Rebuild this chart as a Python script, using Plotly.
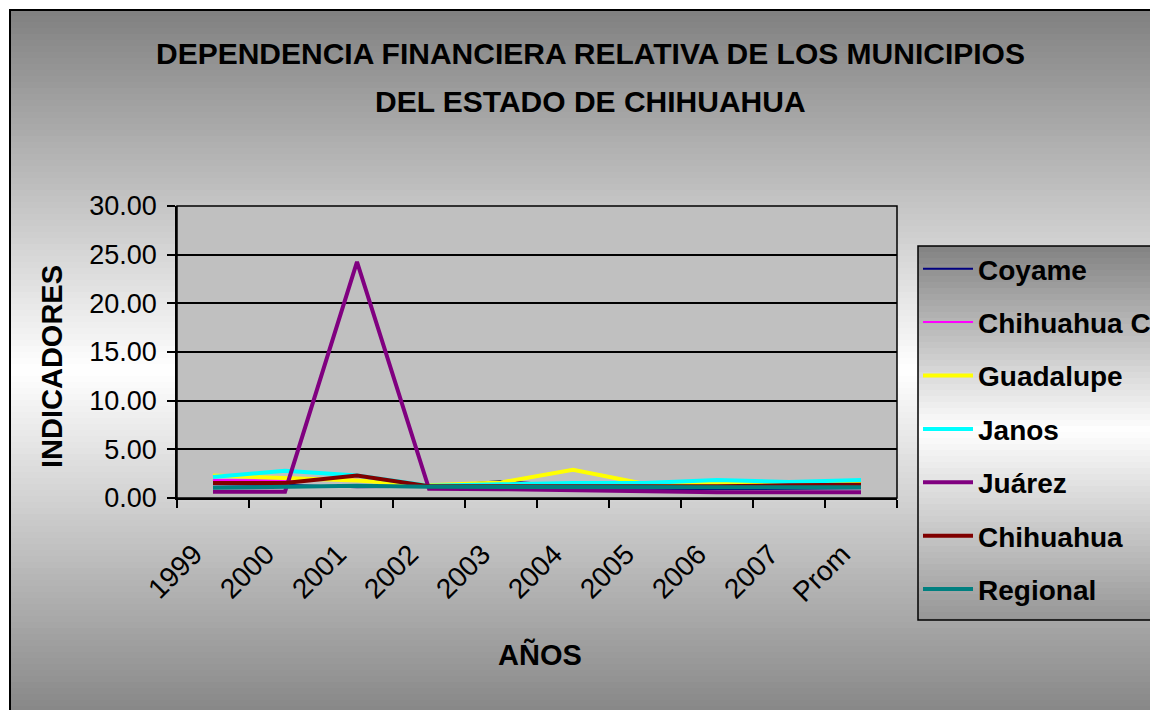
import plotly.graph_objects as go

years = ["1999", "2000", "2001", "2002", "2003", "2004", "2005", "2006", "2007", "Prom"]
coyame = [1.40, 1.35, 1.10, 1.15, 1.75, 1.25, 0.85, 0.90, 0.95, 1.00]
chihuahua_c = [1.85, 1.80, 1.90, 1.15, 1.15, 1.00, 1.00, 1.05, 1.10, 1.20]
guadalupe = [2.30, 2.00, 1.80, 1.30, 1.60, 2.90, 1.45, 1.60, 1.60, 1.65]
janos = [2.15, 2.80, 2.30, 1.25, 1.40, 1.55, 1.55, 1.85, 1.65, 1.85]
juarez = [0.65, 0.65, 24.25, 0.95, 0.90, 0.80, 0.60, 0.60, 0.60, 0.60]
chihuahua = [1.55, 1.55, 2.30, 1.20, 1.20, 1.20, 1.15, 1.20, 1.30, 1.35]
regional = [1.05, 1.10, 1.25, 1.15, 1.15, 1.15, 1.10, 1.10, 1.10, 1.10]

series_names = ["Coyame", "Chihuahua C", "Guadalupe", "Janos", "Juárez", "Chihuahua", "Regional"]
series_vals = [coyame, chihuahua_c, guadalupe, janos, juarez, chihuahua, regional]
colors = ["#000080", "#FF00FF", "#FFFF00", "#00FFFF", "#800080", "#800000", "#008080"]
widths = [2, 2, 4, 4, 4, 4, 4]

OFF = 0  # body margin removed via post_script
PW, PH = 1150, 710
W, H = PW, PH
L, R, T, B = 177, 897, 206, 498  # plot area in page pixels


def px(x):
    return (x - L) / (R - L)


def py(y):
    return (B - y) / (B - T)


def gray(v):
    v = int(round(max(0, min(255, v))))
    return f"rgb({v},{v},{v})"


shapes = []
step = 6
# chart area gradient (gray -> white -> gray)
top, mid, bot = 10, 370, 712
y = top
while y < bot + 10:
    yc = min(y + step / 2, bot)
    if yc <= mid:
        v = 128 + (yc - top) / (mid - top) * (255 - 128)
    else:
        v = 255 - (yc - mid) / (bot - mid) * (255 - 135)
    shapes.append(dict(type="rect", xref="paper", yref="paper", layer="below",
                       x0=px(10), x1=px(PW + 20), y0=py(y), y1=py(y + step + 0.5),
                       fillcolor=gray(v), line=dict(width=0)))
    y += step

# chart border
shapes.append(dict(type="rect", xref="paper", yref="paper", layer="below",
                   x0=px(10), x1=px(PW + 30), y0=py(10), y1=py(PH + 30),
                   fillcolor="rgba(0,0,0,0)", line=dict(color="black", width=2)))

# plot area
shapes.append(dict(type="rect", xref="paper", yref="paper", layer="below",
                   x0=0, x1=1, y0=0, y1=1, fillcolor="#C0C0C0",
                   line=dict(color="black", width=1.5)))

# legend box gradient
lt, lm, lb = 246, 430, 620
y = lt
while y < lb:
    yc = y + step / 2
    if yc <= lm:
        v = 130 + (yc - lt) / (lm - lt) * (255 - 130)
    else:
        v = 255 - (yc - lm) / (lb - lm) * (255 - 150)
    shapes.append(dict(type="rect", xref="paper", yref="paper", layer="below",
                       x0=px(918), x1=px(PW + 20), y0=py(y), y1=py(min(lb, y + step + 0.5)),
                       fillcolor=gray(v), line=dict(width=0)))
    y += step
shapes.append(dict(type="rect", xref="paper", yref="paper", layer="below",
                   x0=px(918), x1=px(PW + 20), y0=py(lt), y1=py(lb),
                   fillcolor="rgba(0,0,0,0)", line=dict(color="black", width=1.5)))

fig = go.Figure()
for i, (name, vals) in enumerate(zip(series_names, series_vals)):
    fig.add_trace(go.Scatter(x=years, y=vals, name=name, mode="lines",
                             legendgroup=name,
                             line=dict(color=colors[i], width=widths[i])))

font_family = "Liberation Sans, Arial, sans-serif"

annotations = [
    dict(text="<b>DEPENDENCIA FINANCIERA RELATIVA DE LOS MUNICIPIOS</b>", xref="paper", yref="paper",
         x=px(590), y=py(54), showarrow=False, xanchor="center", yanchor="middle",
         font=dict(size=30, color="black", family=font_family)),
    dict(text="<b>DEL ESTADO DE CHIHUAHUA</b>", xref="paper", yref="paper",
         x=px(590), y=py(102), showarrow=False, xanchor="center", yanchor="middle",
         font=dict(size=30, color="black", family=font_family)),
    dict(text="<b>INDICADORES</b>", xref="paper", yref="paper",
         x=px(52), y=py(367), showarrow=False, xanchor="center", yanchor="middle",
         textangle=-90, font=dict(size=29, color="black", family=font_family)),
    dict(text="<b>AÑOS</b>", xref="paper", yref="paper",
         x=px(540), y=py(654), showarrow=False, xanchor="center", yanchor="middle",
         font=dict(size=29, color="black", family=font_family)),
]

fig.update_layout(
    width=W, height=H,
    margin=dict(l=L - OFF, r=W - (R - OFF), t=T - OFF, b=H - (B - OFF), pad=0, autoexpand=False),
    paper_bgcolor="white",
    plot_bgcolor="rgba(0,0,0,0)",
    shapes=shapes,
    annotations=annotations,
    font=dict(family=font_family, color="black"),
    showlegend=True,
    legend=dict(x=px(918), y=py(244), xanchor="left", yanchor="top",
                bgcolor="rgba(0,0,0,0)", borderwidth=0,
                font=dict(size=28, color="black", family=font_family, weight="bold"),
                tracegroupgap=14, itemwidth=50, maxheight=600),
    xaxis=dict(type="category", categoryorder="array", categoryarray=years,
               range=[-0.5, 9.5], tickson="boundaries", ticks="outside", ticklen=8,
               tickwidth=1.5, tickcolor="black", showgrid=False, showline=True,
               linecolor="black", linewidth=1.5, tickangle=-45,
               ticklabelstandoff=27, ticklabelshift=-19,
               tickfont=dict(size=28, family=font_family, color="black")),
    yaxis=dict(range=[0, 30], dtick=5, tick0=0, tickformat=".2f", ticks="outside",
               ticklen=8, tickwidth=1.5, tickcolor="black", showgrid=True,
               gridcolor="black", gridwidth=1.5, zeroline=False, showline=True,
               linecolor="black", linewidth=1.5, ticklabelstandoff=5,
               tickfont=dict(size=27, family=font_family, color="black")),
)

fig.write_html("out.html",
               config={"displayModeBar": False},
               post_script="document.body.style.margin='0';document.body.style.overflow='hidden';")
